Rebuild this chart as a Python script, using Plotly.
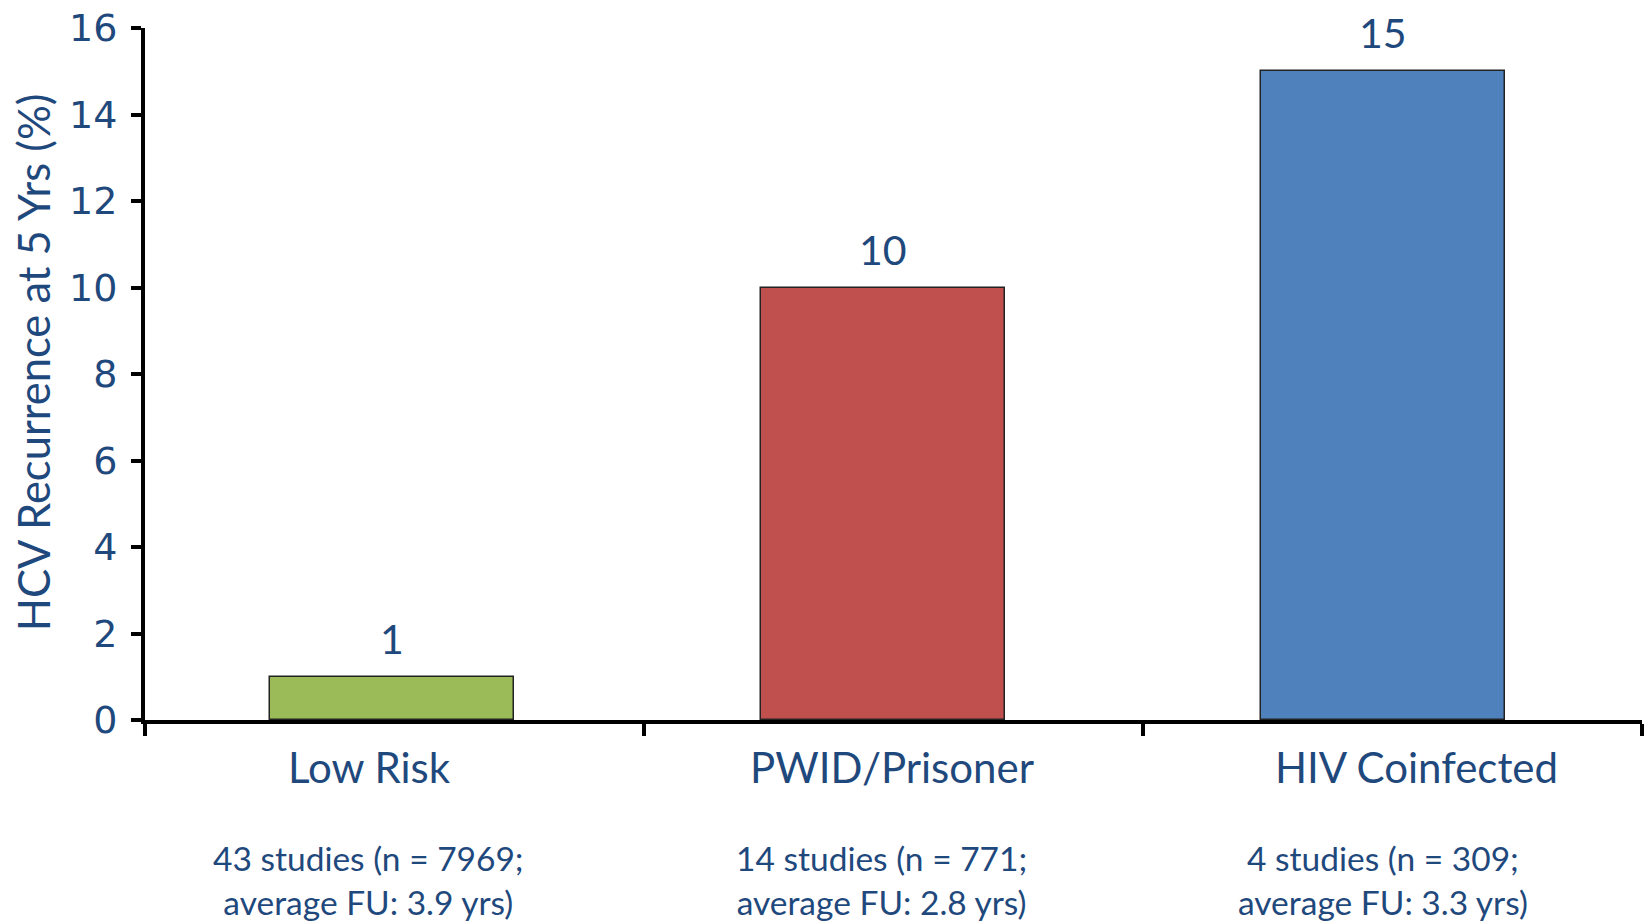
import plotly.graph_objects as go

# Data
categories = ["Low Risk", "PWID/Prisoner", "HIV Coinfected"]
recurrence = [1, 10, 15]
value_labels = ["1", "10", "15"]
study_notes = [
    "43 studies (n = 7969;<br>average FU: 3.9 yrs)",
    "14 studies (n = 771;<br>average FU: 2.8 yrs)",
    "4 studies (n = 309;<br>average FU: 3.3 yrs)",
]
bar_colors = ["#9BBB59", "#C0504D", "#4F81BD"]
y_ticks = [0, 2, 4, 6, 8, 10, 12, 14, 16]

TEXT = "#1F497D"
positions = [i + 0.5 for i in range(len(categories))]
BAR_W = 0.49
BAR_OFF = [-0.25, -0.266, -0.264]

fig = go.Figure()
fig.add_trace(go.Bar(
    x=positions,
    y=recurrence,
    width=BAR_W,
    offset=BAR_OFF,
    marker=dict(color=bar_colors, line=dict(color="#222222", width=1.5)),
    hoverinfo="skip",
))

# Value labels above each bar
for i, (val, lab) in enumerate(zip(recurrence, value_labels)):
    fig.add_annotation(
        x=positions[i] + BAR_OFF[i] + BAR_W / 2, y=val, xref="x", yref="y",
        text=lab, showarrow=False, yanchor="bottom", yshift=12,
        font=dict(family="Lato", size=41, color=TEXT),
    )

# Category names and study notes beneath the axis
name_shift = [-25, -2, 24]
note_shift = [-26, -12, -10]
for i, (cat, note) in enumerate(zip(categories, study_notes)):
    fig.add_annotation(
        x=positions[i], y=0, xref="x", yref="y",
        text=cat, showarrow=False, yanchor="top", yshift=-20,
        xshift=name_shift[i],
        font=dict(family="Lato", size=42, color=TEXT),
    )
    fig.add_annotation(
        x=positions[i], y=0, xref="x", yref="y",
        text=note, showarrow=False, yanchor="top", yshift=-116,
        xshift=note_shift[i],
        font=dict(family="Lato", size=33.5, color=TEXT),
    )

# Y-axis title
fig.add_annotation(
    x=0, y=0.517, xref="paper", yref="paper",
    text="HCV Recurrence at 5 Yrs (%)", textangle=-90, showarrow=False,
    xanchor="center", yanchor="middle", xshift=-112,
    font=dict(family="Lato", size=43.5, color=TEXT),
)

fig.update_layout(
    width=1648, height=924,
    margin=dict(l=145, r=6, t=23, b=204),
    plot_bgcolor="white", paper_bgcolor="white",
    showlegend=False,
    bargap=0,
)
fig.update_xaxes(
    range=[0, 3],
    tickvals=[0, 1, 2, 3], ticktext=["", "", "", ""],
    ticks="outside", ticklen=12, tickwidth=4, tickcolor="black",
    showline=True, linecolor="black", linewidth=4,
    showgrid=False, zeroline=False, fixedrange=True,
)
fig.update_yaxes(
    range=[0, 16],
    tickvals=y_ticks,
    ticks="outside", ticklen=10, tickwidth=4, tickcolor="black",
    showline=True, linecolor="black", linewidth=4,
    showgrid=False, zeroline=False,
    tickfont=dict(family="DejaVu Sans", size=38, color=TEXT),
    ticklabelstandoff=6,
)

fig.write_html("out.html")
